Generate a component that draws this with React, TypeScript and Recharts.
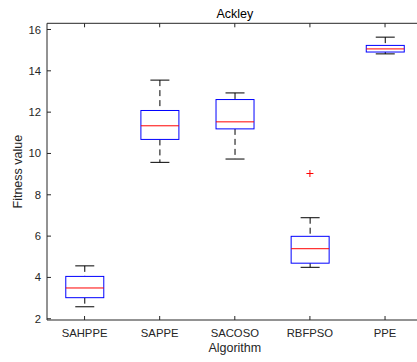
import React from 'react';
import { ComposedChart, Bar, Scatter, XAxis, YAxis } from 'recharts';

// Ackley fitness values per algorithm (box plot statistics)
const algorithms = ['SAHPPE', 'SAPPE', 'SACOSO', 'RBFPSO', 'PPE'];
const minValues = [2.58, 9.57, 9.73, 4.49, 14.82];
const q1Values = [3.02, 10.68, 11.19, 4.69, 14.91];
const medianValues = [3.49, 11.34, 11.53, 5.39, 15.06];
const q3Values = [4.05, 12.08, 12.61, 5.99, 15.23];
const maxValues = [4.56, 13.55, 12.93, 6.89, 15.63];
const outlierValues: (number | null)[] = [null, null, null, 9.03, null];
const yTicks = [2, 4, 6, 8, 10, 12, 14, 16];

const data = algorithms.map((name, i) => ({
  name,
  box: [q1Values[i], q3Values[i]],
  min: minValues[i],
  q1: q1Values[i],
  median: medianValues[i],
  q3: q3Values[i],
  max: maxValues[i],
  outlier: outlierValues[i],
}));

const AXIS = '#262626';
const FONT = '"Liberation Sans", Arial, Helvetica, sans-serif';

const BoxShape = (props: any) => {
  const { x, y, width, height, payload } = props;
  const top = Math.min(y, y + height);
  const bottom = Math.max(y, y + height);
  // pixels per unit, taken from the bar the scale already drew
  const unit = (bottom - top) / (payload.q3 - payload.q1);
  const toY = (v: number) => bottom - (v - payload.q1) * unit;
  const cx = x + width / 2;
  const cap = width / 4;
  return (
    <g>
      <line x1={cx} x2={cx} y1={toY(payload.max)} y2={top} stroke="#000" strokeDasharray="6 4" />
      <line x1={cx} x2={cx} y1={bottom} y2={toY(payload.min)} stroke="#000" strokeDasharray="6 4" />
      <line x1={cx - cap} x2={cx + cap} y1={toY(payload.max)} y2={toY(payload.max)} stroke="#000" />
      <line x1={cx - cap} x2={cx + cap} y1={toY(payload.min)} y2={toY(payload.min)} stroke="#000" />
      <rect x={x} y={top} width={width} height={bottom - top} fill="#fff" stroke="#0000ff" />
      <line x1={x} x2={x + width} y1={toY(payload.median)} y2={toY(payload.median)} stroke="#ff0000" />
    </g>
  );
};

const OutlierShape = (props: any) => {
  const { cx, cy, payload } = props;
  if (payload == null || payload.outlier == null || !isFinite(cy)) return <g />;
  return (
    <g stroke="#ff0000" strokeWidth={1}>
      <line x1={cx - 3.5} x2={cx + 3.5} y1={cy} y2={cy} />
      <line x1={cx} x2={cx} y1={cy - 3.5} y2={cy + 3.5} />
    </g>
  );
};

const App: React.FC = () => {
  return (
    <div style={{ position: 'absolute', left: 0, top: 0, width: 417, height: 362, background: '#fff' }}>
      <ComposedChart
        width={417}
        height={362}
        data={data}
        margin={{ top: 0, right: -5.6, bottom: 0, left: 0 }}
        barCategoryGap="25%"
      >
        <XAxis
          dataKey="name"
          xAxisId={0}
          height={42}
          tickSize={-4}
          tickMargin={12.7}
          axisLine={{ stroke: AXIS }}
          tickLine={{ stroke: AXIS }}
          tick={{ fill: AXIS, fontSize: 11.3, fontFamily: FONT }}
          label={({ viewBox }: any) => (
            <text
              x={viewBox.x + viewBox.width / 2}
              y={viewBox.y + viewBox.height - 10.3}
              textAnchor="middle"
              fill={AXIS}
              fontSize={12.5}
              fontFamily={FONT}
            >
              Algorithm
            </text>
          )}
        />
        <XAxis
          dataKey="name"
          xAxisId="top"
          orientation="top"
          height={23.3}
          tickSize={-4}
          axisLine={{ stroke: AXIS }}
          tickLine={{ stroke: AXIS }}
          tick={() => <g />}
          label={({ viewBox }: any) => (
            <text
              x={viewBox.x + viewBox.width / 2}
              y={18}
              textAnchor="middle"
              fill="#000"
              fontSize={12.5}
              fontFamily={FONT}
            >
              Ackley
            </text>
          )}
        />
        <YAxis
          type="number"
          width={47}
          domain={[1.94, 16.3]}
          ticks={yTicks}
          allowDataOverflow
          tickSize={-4}
          tickMargin={10}
          axisLine={{ stroke: AXIS }}
          tickLine={{ stroke: AXIS }}
          tick={{ fill: AXIS, fontSize: 11.3, fontFamily: FONT }}
          label={({ viewBox }: any) => {
            const cx = 22;
            const cy = viewBox.y + viewBox.height / 2;
            return (
              <text
                x={cx}
                y={cy}
                transform={`rotate(-90 ${cx} ${cy})`}
                textAnchor="middle"
                fill={AXIS}
                fontSize={12.5}
                fontFamily={FONT}
              >
                Fitness value
              </text>
            );
          }}
        />
        <Bar dataKey="box" xAxisId={0} shape={BoxShape} isAnimationActive={false} />
        <Scatter dataKey="outlier" xAxisId={0} shape={OutlierShape} isAnimationActive={false} />
        <Bar dataKey="box" xAxisId="top" fill="none" shape={() => <g />} isAnimationActive={false} />
      </ComposedChart>
    </div>
  );
};

export default App;
